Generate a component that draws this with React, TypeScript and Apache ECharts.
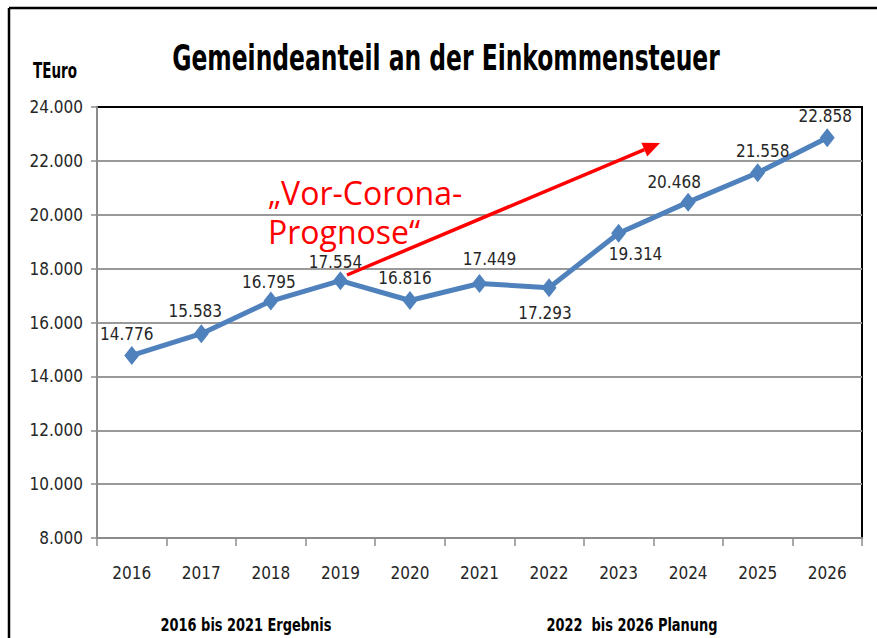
import React, { useEffect, useRef } from "react";
import * as echarts from "echarts";

const years = ["2016", "2017", "2018", "2019", "2020", "2021", "2022", "2023", "2024", "2025", "2026"];
const values = [14776, 15583, 16795, 17554, 16816, 17449, 17293, 19314, 20468, 21558, 22858];
const yTicks = [8000, 10000, 12000, 14000, 16000, 18000, 20000, 22000, 24000];
const titleText = "Gemeindeanteil an der Einkommensteuer";
const unitText = "TEuro";
const noteLines = ["„Vor-Corona-", "Prognose“"];
const periodLeft = "2016 bis 2021 Ergebnis";
const periodRight = "2022  bis 2026 Planung";

const NARROW = '"DejaVu Sans Condensed", "Liberation Sans Narrow", sans-serif';

function fmt(v: number): string {
  const s = Math.round(v).toString();
  return s.replace(/\B(?=(\d{3})+(?!\d))/g, ".");
}

export default function App() {
  const ref = useRef<HTMLDivElement>(null);
  useEffect(() => {
    if (!ref.current) return;
    const chart = echarts.init(ref.current, null, { renderer: "svg" });

    // label placement per point (styling, not data)
    const placement: { pos: string; off: [number, number] }[] = [
      { pos: "top", off: [-5, 2] },
      { pos: "top", off: [-6, 0] },
      { pos: "top", off: [-2, 4] },
      { pos: "top", off: [-5, 4] },
      { pos: "top", off: [-5, 0] },
      { pos: "top", off: [10, -1] },
      { pos: "bottom", off: [-4, 2] },
      { pos: "bottom", off: [17, -2] },
      { pos: "top", off: [-14, 3] },
      { pos: "top", off: [5, 1] },
      { pos: "top", off: [-2, 1] },
    ];

    const data = values.map((v, i) => ({
      value: v,
      label: { position: placement[i].pos, offset: placement[i].off },
    }));

    // arrow geometry
    const x1 = 347, y1 = 275, tx = 660, ty = 143;
    const dx = tx - x1, dy = ty - y1;
    const len = Math.sqrt(dx * dx + dy * dy);
    const ux = dx / len, uy = dy / len;
    const hl = 17, hw = 7.5;
    const bx = tx - ux * hl, by = ty - uy * hl;
    const px = -uy, py = ux;

    const noteStyle = (t: string) => ({
      text: t,
      fill: "#ff0000",
      font: `32px "Open Sans", sans-serif`,
      textAlign: "left",
      textVerticalAlign: "middle",
    });

    chart.setOption({
      animation: false,
      backgroundColor: "#fff",
      grid: {
        left: 97,
        right: 15,
        top: 107,
        bottom: 100,
        show: true,
        borderColor: "#000",
        borderWidth: 2,
        backgroundColor: "transparent",
      },
      xAxis: {
        type: "category",
        data: years,
        boundaryGap: true,
        axisLine: { lineStyle: { color: "#8c8c8c", width: 2 } },
        axisTick: { show: true, length: 8, lineStyle: { color: "#8c8c8c", width: 1.5 } },
        axisLabel: { color: "#262626", fontFamily: NARROW, fontSize: 17, margin: 26 },
      },
      yAxis: {
        type: "value",
        min: yTicks[0],
        max: yTicks[yTicks.length - 1],
        interval: 2000,
        axisLine: { show: true, lineStyle: { color: "#8c8c8c", width: 2 } },
        axisTick: { show: true, length: 6, lineStyle: { color: "#8c8c8c", width: 1.5 } },
        axisLabel: {
          color: "#262626",
          fontFamily: NARROW,
          fontSize: 17,
          margin: 14,
          formatter: (v: number) => fmt(v),
        },
        splitLine: { show: true, showMaxLine: false, showMinLine: false, lineStyle: { color: "#999", width: 2 } },
      },
      series: [
        {
          type: "line",
          data,
          symbol: "diamond",
          symbolSize: [15, 19],
          lineStyle: { color: "#4f81bd", width: 5 },
          itemStyle: { color: "#4f81bd" },
          label: {
            show: true,
            color: "#262626",
            fontFamily: NARROW,
            fontSize: 17,
            distance: 5,
            formatter: (p: any) => fmt(p.value),
          },
          z: 3,
        },
      ],
      graphic: [
        { type: "line", shape: { x1: 9, y1: 8, x2: 877, y2: 8 }, style: { stroke: "#000", lineWidth: 2.5 } },
        { type: "line", shape: { x1: 9, y1: 8, x2: 9, y2: 638 }, style: { stroke: "#000", lineWidth: 2.5 } },
        {
          type: "text",
          x: 446,
          y: 58,
          scaleX: 0.84,
          scaleY: 1.12,
          style: {
            text: titleText,
            fill: "#000",
            font: `bold 31px ${NARROW}`,
            textAlign: "center",
            textVerticalAlign: "middle",
          },
        },
        {
          type: "text",
          x: 33,
          y: 71,
          scaleX: 0.75,
          scaleY: 1.05,
          style: {
            text: unitText,
            fill: "#000",
            font: `bold 20px ${NARROW}`,
            textAlign: "left",
            textVerticalAlign: "middle",
          },
        },
        {
          type: "text",
          x: 246,
          y: 625,
          scaleX: 0.8,
          style: {
            text: periodLeft,
            fill: "#000",
            font: `bold 18px ${NARROW}`,
            textAlign: "center",
            textVerticalAlign: "middle",
          },
        },
        {
          type: "text",
          x: 632,
          y: 625,
          scaleX: 0.8,
          style: {
            text: periodRight,
            fill: "#000",
            font: `bold 18px ${NARROW}`,
            textAlign: "center",
            textVerticalAlign: "middle",
          },
        },
        { type: "text", x: 268, y: 192, z: 10, style: noteStyle(noteLines[0]) },
        { type: "text", x: 268, y: 231, z: 10, style: noteStyle(noteLines[1]) },
        {
          type: "line",
          z: 10,
          shape: { x1, y1, x2: bx, y2: by },
          style: { stroke: "#ff0000", lineWidth: 3.5 },
        },
        {
          type: "polygon",
          z: 10,
          shape: {
            points: [
              [tx, ty],
              [bx + px * hw, by + py * hw],
              [bx - px * hw, by - py * hw],
            ],
          },
          style: { fill: "#ff0000" },
        },
      ],
    });
    return () => chart.dispose();
  }, []);
  return (
    <div
      ref={ref}
      style={{ position: "fixed", left: 0, top: 0, width: 877, height: 638, background: "#fff" }}
    />
  );
}
